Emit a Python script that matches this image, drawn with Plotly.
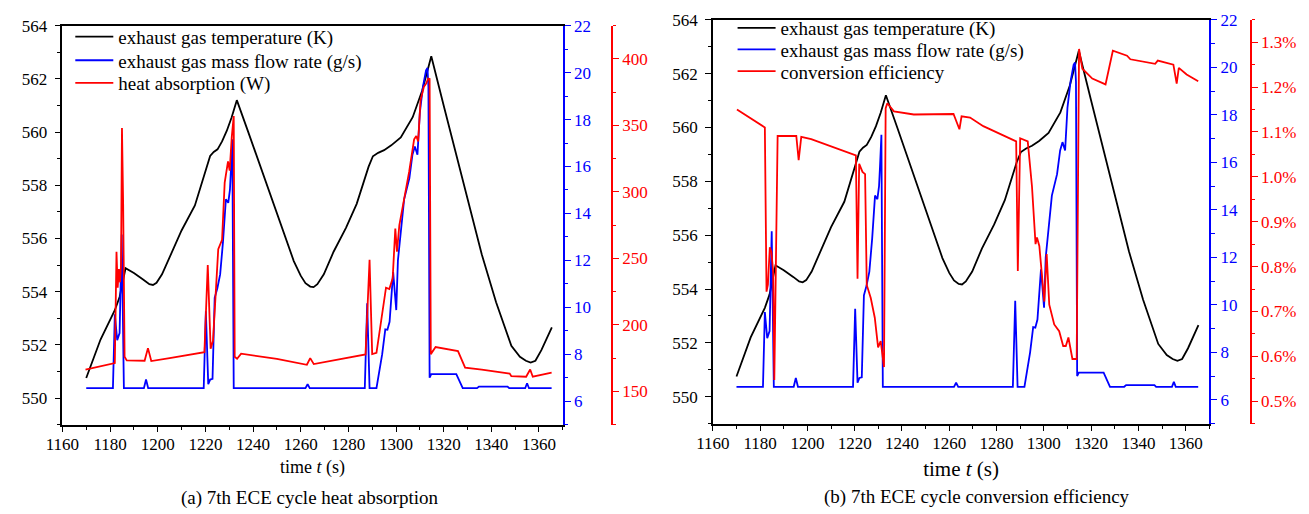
import plotly.graph_objects as go

# ---------------- data ----------------
# exhaust gas temperature (K)
t_temp = [1170, 1176, 1182, 1184, 1186.5, 1190, 1194, 1196.5, 1198, 1199.5, 1201.8, 1205.9, 1210, 1215.6,
          1220.5, 1222, 1223.5, 1225.1, 1227, 1229, 1231, 1233.2, 1238, 1243, 1248.8, 1253, 1257.1,
          1260, 1262, 1264, 1265.4, 1267, 1269.7, 1273.8, 1279, 1283.5, 1288.5, 1290.3, 1292.5,
          1295, 1298, 1302, 1307, 1311, 1314.8, 1320, 1325, 1330, 1336, 1342, 1348.4, 1352,
          1354.5, 1356.5, 1358.5, 1361, 1365.4]
temp = [550.75, 552.2, 553.3, 553.8, 554.88, 554.7, 554.45, 554.28, 554.25, 554.33, 554.65, 555.51, 556.3, 557.24,
        558.6, 559.1, 559.25, 559.35, 559.65, 560.05, 560.55, 561.2, 560.0, 558.75, 557.24, 556.2, 555.15,
        554.6, 554.32, 554.19, 554.17, 554.28, 554.65, 555.5, 556.4, 557.3, 558.7, 559.09, 559.22,
        559.32, 559.5, 559.8, 560.56, 561.56, 562.85, 561.0, 559.25, 557.5, 555.4, 553.6, 551.96, 551.55,
        551.4, 551.33, 551.4, 551.8, 552.66]

# exhaust gas mass flow rate (g/s)
t_flow = [1170, 1181.2, 1182.0, 1183.0, 1184.0, 1184.9, 1185.8, 1194.2, 1195.1, 1196.0, 1219.3,
          1220.2, 1221.2, 1222.0, 1223.0, 1223.9, 1225.0, 1226.2, 1227.4, 1228.6, 1229.6, 1230.3,
          1230.7, 1231.3, 1231.9, 1262.0, 1262.9, 1263.8, 1286.9, 1287.9, 1288.9, 1291.8, 1294.2,
          1295.5, 1296.4, 1297.3, 1298.8, 1300.1, 1300.8, 1302.0, 1303.4, 1305.6, 1306.9, 1307.9,
          1309.0, 1310.0, 1311.3, 1312.6, 1313.2, 1313.6, 1314.1, 1314.8, 1325.3, 1328.0, 1334.0,
          1334.8, 1346.8, 1347.5, 1354.2, 1355.0, 1355.8, 1365.3]
flow = [6.55, 6.55, 9.7, 8.6, 8.9, 13.1, 6.55, 6.55, 6.92, 6.55, 6.55,
        9.83, 6.72, 6.92, 6.95, 10.4, 10.8, 11.4, 12.8, 14.6, 14.45, 15.0,
        15.8, 17.16, 6.55, 6.55, 6.72, 6.55, 6.55, 10.17, 6.55, 6.55, 8.0,
        9.06, 9.04, 9.38, 11.5, 9.88, 12.0, 13.3, 14.6, 15.5, 16.5, 16.85,
        16.5, 18.3, 19.4, 20.1, 20.2, 19.4, 7.0, 7.15, 7.15, 6.55, 6.55,
        6.62, 6.62, 6.55, 6.55, 6.76, 6.55, 6.55]

# heat absorption (W)
t_heat = [1169.7, 1182.0, 1182.7, 1183.2, 1183.7, 1184.2, 1184.6, 1185.0, 1185.5, 1186.1, 1187.0,
          1194.5, 1195.9, 1197.3, 1205, 1219.6, 1221.0, 1222.2, 1223.2, 1224.2, 1225.4, 1227.0,
          1228.1, 1229.5, 1230.2, 1231.1, 1231.9, 1232.3, 1233.3, 1235.0, 1250, 1262.6, 1264.0,
          1265.5, 1287.2, 1288.9, 1290.0, 1291.8, 1295.8, 1297.2, 1298.6, 1299.7, 1300.4, 1301.4,
          1302.4, 1303.9, 1305.5, 1307.6, 1308.5, 1309.3, 1310.3, 1311.7, 1312.7, 1313.5, 1314.1,
          1314.6, 1316.6, 1326.0, 1329.0, 1336.0, 1347.7, 1348.4, 1354.6, 1356.3, 1357.4, 1365.3]
heat = [166.4, 171.3, 255, 228, 242, 232, 245, 348, 290, 176, 173.3,
        173.0, 182.5, 172.8, 175.0, 179.5, 245, 182, 188, 220, 257, 264,
        307, 323, 316, 342, 357, 176, 174.5, 178.3, 174.5, 170.0, 175.0,
        170.5, 177.8, 249, 178, 179, 228, 227, 235, 272.5, 255, 275,
        285, 302, 315, 339.5, 342, 338, 369, 379, 381.6, 385.3, 385,
        178, 183.3, 180.3, 167.9, 166.4, 163.4, 161.4, 161.0, 166.4, 161.0, 164.0]

# conversion efficiency (%)
t_eff = [1170.2, 1182.0, 1182.7, 1183.3, 1184.1, 1184.8, 1185.5, 1186.0, 1187.4, 1195.3, 1196.3,
         1197.4, 1201.6, 1210, 1220.5, 1221.2, 1221.9, 1223.3, 1224.4, 1225.1, 1226.8, 1228.5,
         1229.9, 1231.0, 1232.4, 1233.1, 1233.8, 1236.6, 1245, 1261.8, 1264.3, 1265.2, 1268.8,
         1274.4, 1280, 1288.3, 1289.0, 1290.0, 1293.2, 1295.0, 1296.5, 1297.1, 1298.1, 1298.8,
         1300.2, 1301.2, 1302.3, 1304.4, 1306.5, 1308.2, 1309.3, 1310.4, 1312.1, 1313.9, 1314.9,
         1316.3, 1320.5, 1326.1, 1329.2, 1335.2, 1336.6, 1347.1, 1348.2, 1354.8, 1356.2, 1357.1,
         1360.4, 1365.3]
eff = [1.150, 1.110, 0.744, 0.760, 0.843, 0.832, 0.788, 0.547, 1.091, 1.091, 1.037,
       1.089, 1.084, 1.068, 1.048, 0.773, 1.029, 1.011, 1.006, 0.759, 0.730, 0.686,
       0.620, 0.634, 0.576, 1.153, 1.164, 1.146, 1.139, 1.140, 1.106, 1.135, 1.132,
       1.113, 1.099, 1.079, 0.790, 1.086, 1.079, 0.978, 0.850, 0.865, 0.846, 0.803,
       0.722, 0.828, 0.715, 0.671, 0.656, 0.623, 0.623, 0.642, 0.594, 0.594, 1.285,
       1.241, 1.219, 1.206, 1.281, 1.270, 1.262, 1.252, 1.259, 1.250, 1.208, 1.243,
       1.228, 1.213]

name_temp = "exhaust gas temperature (K)"
name_flow = "exhaust gas mass flow rate (g/s)"
name_heat = "heat absorption (W)"
name_eff = "conversion efficiency"

# ---------------- figure ----------------
W, H = 1309, 514
FONT = "Liberation Serif"
BLUE = "#0000FF"
RED = "#FF0000"
LW = 1.8

fig = go.Figure()
fig.add_trace(go.Scatter(x=t_temp, y=temp, mode="lines", name=name_temp, showlegend=True,
                         line=dict(color="black", width=LW), xaxis="x", yaxis="y", legend="legend"))
fig.add_trace(go.Scatter(x=t_flow, y=flow, mode="lines", name=name_flow, showlegend=True,
                         line=dict(color=BLUE, width=LW), xaxis="x", yaxis="y2", legend="legend2"))
fig.add_trace(go.Scatter(x=t_heat, y=heat, mode="lines", name=name_heat, showlegend=True,
                         line=dict(color=RED, width=LW), xaxis="x", yaxis="y3", legend="legend3"))

fig.add_trace(go.Scatter(x=t_temp, y=temp, mode="lines", name=name_temp, showlegend=True,
                         line=dict(color="black", width=LW), xaxis="x2", yaxis="y4", legend="legend4"))
fig.add_trace(go.Scatter(x=t_flow, y=flow, mode="lines", name=name_flow, showlegend=True,
                         line=dict(color=BLUE, width=LW), xaxis="x2", yaxis="y5", legend="legend5"))
fig.add_trace(go.Scatter(x=t_eff, y=eff, mode="lines", name=name_eff, showlegend=True,
                         line=dict(color=RED, width=LW), xaxis="x2", yaxis="y6", legend="legend6"))


def ax(color, dtick, mdtick, rng, **kw):
    d = dict(range=rng, dtick=dtick, showgrid=False, zeroline=False,
             showline=True, linecolor=color, linewidth=1.5,
             ticks="outside", ticklen=6, tickwidth=1.3, tickcolor=color,
             tickfont=dict(family=FONT, size=17, color=color),
             minor=dict(dtick=mdtick, ticks="outside", ticklen=3.5, tickwidth=1.2,
                        tickcolor=color, showgrid=False))
    d.update(kw)
    return d


def leg(x_px, top_px):
    return dict(x=x_px / W, y=1 - top_px / H, xanchor="left", yanchor="top",
                bgcolor="rgba(0,0,0,0)", font=dict(family=FONT, size=19, color="black"),
                itemwidth=38, borderwidth=0, visible=True)


xa = [46 / W, 553 / W]
xb = [705 / W, 1208 / W]
ya = [1 - 423 / H, 1 - 17 / H]
yb = [1 - 422 / H, 1 - 11 / H]

title_x = dict(text="time <i>t</i> (s)", font=dict(family=FONT, size=18, color="black"), standoff=8)
title_x2 = dict(text="time <i>t</i> (s)", font=dict(family=FONT, size=21, color="black"), standoff=10)

fig.update_layout(
    width=W, height=H, autosize=False,
    margin=dict(l=0, r=0, t=0, b=0),
    paper_bgcolor="white", plot_bgcolor="white",
    showlegend=True,
    font=dict(family=FONT, size=17, color="black"),
    xaxis=ax("black", 20, 10, [1160, 1370], domain=xa, anchor="y", mirror=True, title=title_x,
             ticklabelstandoff=-3),
    yaxis=ax("black", 2, 1, [549, 564], domain=ya, anchor="x", ticklabelstandoff=4),
    yaxis2=ax(BLUE, 2, 1, [5, 22], overlaying="y", side="right", anchor="x"),
    yaxis3=ax(RED, 50, 25, [125, 425], overlaying="y", side="right", anchor="free",
              position=603 / W),
    xaxis2=ax("black", 20, 10, [1160, 1370], domain=xb, anchor="y4", mirror=True, title=title_x2,
              ticklabelstandoff=-3),
    yaxis4=ax("black", 2, 1, [549, 564], domain=yb, anchor="x2", ticklabelstandoff=4),
    yaxis5=ax(BLUE, 2, 1, [5, 22], overlaying="y4", side="right", anchor="x2"),
    yaxis6=ax(RED, 0.1, 0.05, [0.45, 1.35], overlaying="y4", side="right", anchor="free",
              position=1250 / W, ticksuffix="%", tickformat=".1f"),
    legend=leg(54, 9),
    legend2=leg(54, 33),
    legend3=leg(54, 56),
    legend4=leg(725, 0),
    legend5=leg(725, 22),
    legend6=leg(725, 44),
    annotations=[
        dict(text="(a) 7th ECE cycle heat absorption", x=296 / W, y=1 - 498 / H,
             xref="paper", yref="paper", xanchor="center", yanchor="middle", showarrow=False,
             font=dict(family=FONT, size=19, color="black")),
        dict(text="(b) 7th ECE cycle conversion efficiency", x=973 / W, y=1 - 497 / H,
             xref="paper", yref="paper", xanchor="center", yanchor="middle", showarrow=False,
             font=dict(family=FONT, size=19, color="black")),
    ],
)

fig.write_html("out.html")
